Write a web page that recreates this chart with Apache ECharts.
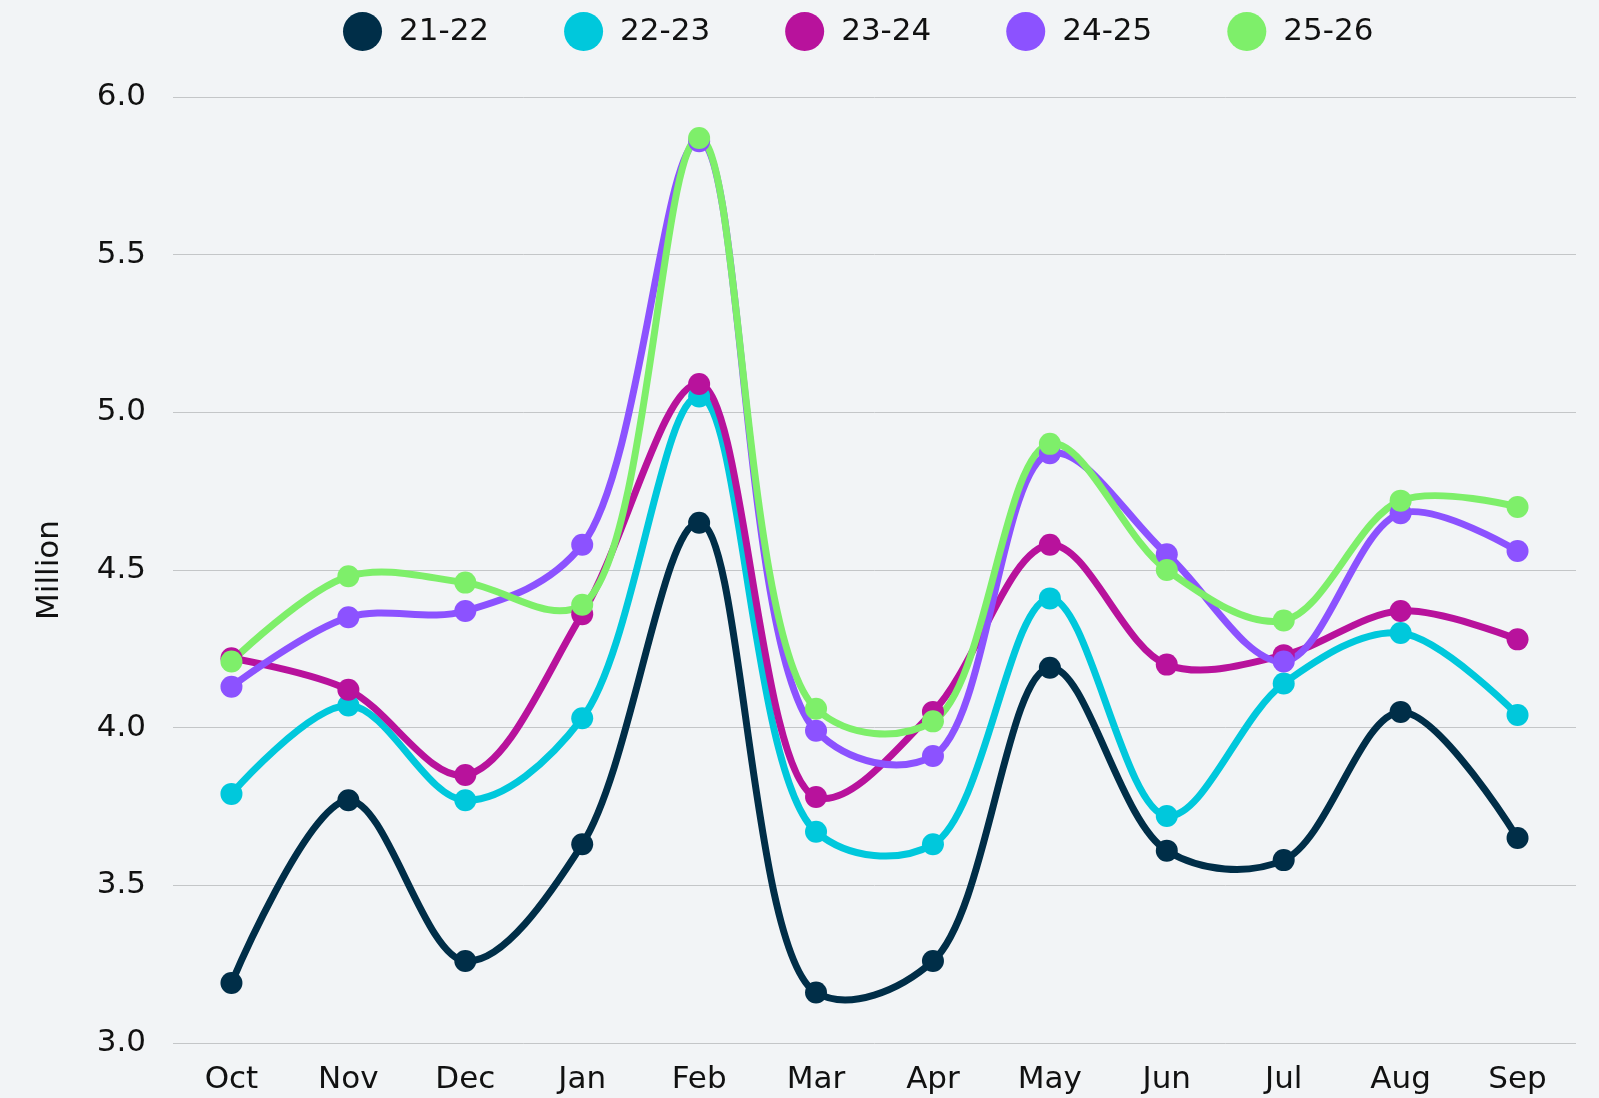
<!DOCTYPE html>
<html><head><meta charset="utf-8">
<script src="https://cdn.jsdelivr.net/npm/echarts@6/dist/echarts.min.js"></script>
<style>html,body{margin:0;padding:0;background:#f2f4f6;}#c{width:1599px;height:1098px;}</style>
</head><body><div id="c"></div>
<script>
const categories = ['Oct','Nov','Dec','Jan','Feb','Mar','Apr','May','Jun','Jul','Aug','Sep'];
const seriesNames = ['21-22','22-23','23-24','24-25','25-26'];
const s2122 = [3.19,3.77,3.26,3.63,4.65,3.16,3.26,4.19,3.61,3.58,4.05,3.65];
const s2223 = [3.79,4.07,3.77,4.03,5.05,3.67,3.63,4.41,3.72,4.14,4.30,4.04];
const s2324 = [4.22,4.12,3.85,4.36,5.09,3.78,4.05,4.58,4.20,4.23,4.37,4.28];
const s2425 = [4.13,4.35,4.37,4.58,5.86,3.99,3.91,4.87,4.55,4.21,4.68,4.56];
const s2526 = [4.21,4.48,4.46,4.39,5.87,4.06,4.02,4.90,4.50,4.34,4.72,4.70];
const yTicks = [3.0,3.5,4.0,4.5,5.0,5.5,6.0];
const colors = ['#002e48','#00c8dc','#b8129c','#8c52ff','#7eef6a'];
const data = [s2122,s2223,s2324,s2425,s2526];
const FONT = 'DejaVu Sans';
const ALPHA = 0.5;

// centripetal Catmull-Rom spline through pixel points
function crPath(p, alpha){
  const n = p.length, eps = 1e-12;
  const L = (a,b)=> (a && b) ? Math.pow((a[0]-b[0])**2 + (a[1]-b[1])**2, alpha) : 0;
  let d = 'M'+p[0][0]+' '+p[0][1];
  for (let i=0;i<n-1;i++){
    const p0 = p[i-1], p1 = p[i], p2 = p[i+1], p3 = p[i+2];
    const l01_2a = L(p0,p1), l12_2a = L(p1,p2), l23_2a = L(p2,p3);
    const l01_a = Math.sqrt(l01_2a), l12_a = Math.sqrt(l12_2a), l23_a = Math.sqrt(l23_2a);
    let c1 = [p1[0],p1[1]], c2 = [p2[0],p2[1]];
    if (l01_a > eps){
      const a = 2*l01_2a + 3*l01_a*l12_a + l12_2a, m = 3*l01_a*(l01_a+l12_a);
      c1 = [(p1[0]*a - p0[0]*l12_2a + p2[0]*l01_2a)/m, (p1[1]*a - p0[1]*l12_2a + p2[1]*l01_2a)/m];
    }
    if (l23_a > eps){
      const b = 2*l23_2a + 3*l23_a*l12_a + l12_2a, m = 3*l23_a*(l23_a+l12_a);
      c2 = [(p2[0]*b + p1[0]*l23_2a - p3[0]*l12_2a)/m, (p2[1]*b + p1[1]*l23_2a - p3[1]*l12_2a)/m];
    }
    d += ' C'+c1[0]+' '+c1[1]+' '+c2[0]+' '+c2[1]+' '+p2[0]+' '+p2[1];
  }
  return d;
}

const series = [];
seriesNames.forEach((n,i)=>{
  const vals = data[i];
  series.push({
    name:'curve '+n, type:'custom', silent:true, z:2,
    data: vals.map((v,k)=>[k,v]),
    encode:{x:0,y:1},
    renderItem:(params, api)=>{
      if (params.dataIndex !== 0) return null;
      const pts = vals.map((v,k)=>api.coord([k,v]));
      return {type:'path', shape:{pathData:crPath(pts,ALPHA)},
        style:{fill:'none', stroke:colors[i], lineWidth:7, lineJoin:'round', lineCap:'round'}};
    }
  });
  series.push({
    name:n, type:'line', data:vals, z:2,
    symbol:'circle', symbolSize:22, showSymbol:true,
    lineStyle:{width:0, opacity:0},
    itemStyle:{color:colors[i]}
  });
});

const chart = echarts.init(document.getElementById('c'));
chart.setOption({
  backgroundColor:'#f2f4f6',
  animation:false,
  color: colors,
  textStyle:{fontFamily:FONT},
  legend:{
    top: 7, left:338,
    icon:'circle', itemWidth:39, itemHeight:39, itemGap:75,
    textStyle:{fontSize:31, color:'#111', fontFamily:FONT, padding:[0,0,0,12]},
    data: seriesNames
  },
  grid:{left:173, right:23, top:97, bottom:55, containLabel:false},
  xAxis:{
    type:'category', data:categories, boundaryGap:true,
    axisLine:{show:false}, axisTick:{show:false},
    axisLabel:{fontSize:31, color:'#111', margin:21, fontFamily:FONT}
  },
  yAxis:{
    type:'value', min:3, max:6, interval:0.5,
    name:'Million', nameLocation:'middle', nameGap:108, nameRotate:90,
    nameTextStyle:{fontSize:31, color:'#111', fontFamily:FONT},
    axisLine:{show:false}, axisTick:{show:false},
    axisLabel:{fontSize:31, color:'#111', margin:27, fontFamily:FONT, padding:[5,0,0,0], formatter:v=>v.toFixed(1)},
    splitLine:{lineStyle:{color:'#c4c6c8', width:1}}
  },
  series: series
});
</script></body></html>
